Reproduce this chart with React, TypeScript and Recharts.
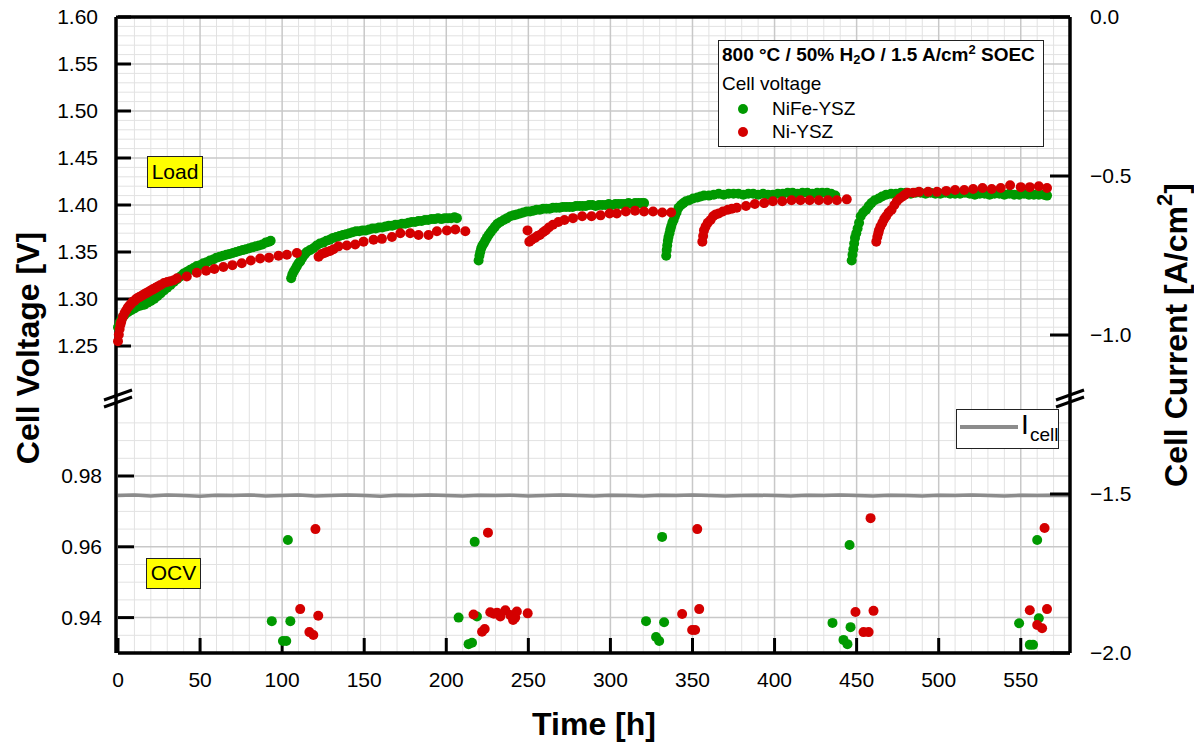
import React from 'react';
import { ComposedChart, Scatter, Line, XAxis, YAxis, CartesianGrid, ReferenceLine, Legend } from 'recharts';

const FONT = '"Liberation Sans", Arial, Helvetica, sans-serif';
const GREEN = '#009900';
const RED = '#d40000';
const GRAY = '#8c8c8c';

// ---------- data: cell voltage under load (time h, voltage V) ----------
const nifeLoad1: [number, number][] = [
  [0, 1.270], [1, 1.275], [2, 1.278], [3, 1.281], [4, 1.283], [6, 1.286], [8, 1.288], [10, 1.290], [12, 1.292], [14, 1.293],
  [16, 1.294], [18, 1.296], [20, 1.298], [22, 1.300], [24, 1.303], [26, 1.306], [28, 1.309], [30, 1.312], [32, 1.315], [34, 1.318],
  [36, 1.321], [38, 1.324], [40, 1.327], [42, 1.329], [44, 1.331], [46, 1.333], [48, 1.335], [50, 1.336], [52, 1.338], [54, 1.339],
  [56, 1.341], [58, 1.342], [60, 1.344], [62, 1.345], [64, 1.346], [66, 1.347], [68, 1.348], [70, 1.349], [72, 1.350], [74, 1.351],
  [76, 1.352], [78, 1.353], [80, 1.354], [82, 1.355], [84, 1.356], [86, 1.357], [88, 1.358], [90, 1.360], [92, 1.361], [93, 1.362],
];
const nifeLoad2: [number, number][] = [
  [105.5, 1.322], [106.2, 1.326], [107, 1.329], [108, 1.332], [109, 1.335], [110, 1.338], [111, 1.340], [112, 1.343], [113, 1.346],
  [114, 1.348], [115, 1.350], [117, 1.352], [119, 1.354], [121, 1.357], [123, 1.359], [125, 1.360], [127, 1.362], [129, 1.363],
  [131, 1.365], [133, 1.366], [135, 1.367], [137, 1.368], [139, 1.369], [141, 1.370], [143, 1.371], [145, 1.372], [147, 1.372],
  [149, 1.373], [151, 1.373], [153, 1.374], [155, 1.375], [157, 1.375], [159, 1.376], [161, 1.376], [163, 1.377], [165, 1.378],
  [167, 1.378], [169, 1.379], [171, 1.379], [173, 1.380], [175, 1.380], [177, 1.381], [179, 1.382], [181, 1.382], [183, 1.383],
  [185, 1.383], [187, 1.384], [189, 1.384], [191, 1.385], [193, 1.385], [195, 1.386], [197, 1.385], [199, 1.386], [201, 1.386],
  [203, 1.386], [205, 1.387], [206.5, 1.386],
];
const nifeLoad3: [number, number][] = [
  [219.7, 1.341], [220.2, 1.346], [220.7, 1.350], [221.3, 1.354], [222, 1.357], [222.8, 1.359], [223.7, 1.362], [224.7, 1.365],
  [225.8, 1.368], [227, 1.371], [228.3, 1.374], [229.7, 1.377], [231.2, 1.380], [232.9, 1.382], [235, 1.384], [237, 1.386],
  [239, 1.388], [241, 1.389], [243, 1.390], [245, 1.391], [247, 1.392], [249, 1.393], [251, 1.393], [253, 1.394], [255, 1.395],
  [257, 1.395], [259, 1.396], [261, 1.396], [263, 1.396], [265, 1.397], [267, 1.397], [269, 1.397], [271, 1.398], [273, 1.398],
  [275, 1.398], [277, 1.398], [279, 1.399], [281, 1.399], [283, 1.399], [285, 1.399], [287, 1.400], [289, 1.400], [291, 1.399],
  [293, 1.400], [295, 1.400], [297, 1.400], [299, 1.401], [301, 1.400], [303, 1.401], [305, 1.401], [307, 1.401], [309, 1.401],
  [311, 1.402], [313, 1.401], [315, 1.402], [317, 1.402], [319, 1.402], [320.5, 1.402],
];
const nifeLoad4: [number, number][] = [
  [334, 1.346], [334.3, 1.352], [334.6, 1.357], [335, 1.362], [335.4, 1.366], [336, 1.370], [336.5, 1.374], [337, 1.377],
  [337.7, 1.381], [338.5, 1.384], [339.3, 1.388], [340.3, 1.392], [341.5, 1.397], [343, 1.400], [344.5, 1.402], [346, 1.404],
  [348, 1.405], [350.4, 1.407], [353, 1.408], [355, 1.409], [357, 1.410], [360, 1.410], [363, 1.411], [366, 1.412], [369, 1.411],
  [372, 1.412], [375, 1.412], [378, 1.412], [381, 1.411], [384, 1.412], [387, 1.412], [390, 1.411], [393, 1.412], [396, 1.411],
  [399, 1.411], [402, 1.412], [405, 1.412], [408, 1.413], [411, 1.413], [414, 1.412], [417, 1.413], [420, 1.413], [423, 1.412],
  [426, 1.413], [429, 1.413], [432, 1.413], [434.5, 1.412], [437, 1.410],
];
const nifeLoad5: [number, number][] = [
  [447, 1.341], [447.5, 1.347], [448, 1.353], [448.5, 1.359], [449, 1.365], [449.8, 1.370], [450.6, 1.375], [451.5, 1.381],
  [452.5, 1.388], [454, 1.392], [455.8, 1.395], [457.4, 1.399], [459, 1.402], [461, 1.405], [463.4, 1.407], [465.5, 1.409],
  [468, 1.411], [471, 1.412], [474, 1.412], [477, 1.413], [480, 1.413], [483, 1.412], [486, 1.413], [489, 1.413], [492, 1.412],
  [495, 1.413], [498, 1.412], [501, 1.412], [504, 1.413], [507, 1.412], [510, 1.412], [513, 1.412], [516, 1.413], [519, 1.412],
  [522, 1.411], [525, 1.412], [528, 1.412], [531, 1.411], [534, 1.412], [537, 1.412], [540, 1.411], [543, 1.412], [546, 1.411],
  [549, 1.411], [552, 1.412], [555, 1.411], [558, 1.411], [561, 1.411], [564, 1.411], [566, 1.410],
];

const niLoad1: [number, number][] = [
  [0, 1.255], [0.5, 1.262], [1, 1.268], [1.5, 1.273], [2, 1.276], [3, 1.281], [4, 1.285], [5, 1.288], [6, 1.291], [7, 1.293],
  [8, 1.295], [9, 1.297], [10, 1.298], [11, 1.300], [12, 1.301], [13, 1.302], [14, 1.303], [15, 1.304], [16, 1.305], [17, 1.306],
  [18, 1.307], [19, 1.308], [20, 1.309], [21, 1.310], [22, 1.311], [23, 1.312], [24, 1.313], [26, 1.315], [28, 1.317], [30, 1.318],
  [32, 1.319], [34, 1.320], [36, 1.322], [41.9, 1.324], [48, 1.328], [53.7, 1.330], [58.7, 1.332], [64.2, 1.334], [69.7, 1.336],
  [75.4, 1.338], [80.9, 1.341], [86.6, 1.343], [92, 1.344], [97.8, 1.346], [102.9, 1.347], [109, 1.349],
];
const niLoad2: [number, number][] = [
  [122.2, 1.345], [124.2, 1.348], [125.8, 1.349], [127.2, 1.350], [129.2, 1.351], [131.3, 1.353], [134.3, 1.356], [139.4, 1.357],
  [144.5, 1.358], [149.6, 1.361], [155.7, 1.363], [160.8, 1.364], [166.9, 1.366], [172, 1.370], [178, 1.370], [183.1, 1.368],
  [189.2, 1.368], [194.3, 1.372], [200.4, 1.373], [205.5, 1.374], [211.6, 1.372],
];
const niLoad3: [number, number][] = [
  [249.5, 1.373], [250.6, 1.361], [252, 1.363], [254, 1.365], [255.5, 1.367], [257, 1.368], [259, 1.371], [260.6, 1.373],
  [262.5, 1.376], [265, 1.379], [268.3, 1.382], [272, 1.384], [277.2, 1.386], [282.8, 1.388], [288.5, 1.388], [294, 1.389],
  [299.5, 1.391], [303.9, 1.391], [309.4, 1.393], [315, 1.394], [320.5, 1.393], [326, 1.393], [331.6, 1.392], [337, 1.392],
];
const niLoad4: [number, number][] = [
  [356, 1.361], [356.5, 1.367], [357, 1.373], [358, 1.377], [359.3, 1.381], [361, 1.384], [362.6, 1.388], [364.2, 1.390],
  [366, 1.391], [368.5, 1.393], [371.5, 1.395], [374, 1.396], [377, 1.397], [382.6, 1.399], [388, 1.401], [393.7, 1.402],
  [399, 1.404], [404.7, 1.404], [410.3, 1.405], [415.8, 1.405], [421.4, 1.405], [427, 1.405], [432.5, 1.405], [438, 1.405],
  [444, 1.406],
];
const niLoad5: [number, number][] = [
  [462, 1.361], [462.6, 1.366], [463.2, 1.370], [463.6, 1.373], [464.5, 1.377], [465.7, 1.381], [466.8, 1.385], [468, 1.388],
  [469.5, 1.392], [471.3, 1.395], [473, 1.400], [474.5, 1.404], [476.2, 1.407], [478, 1.409], [479.5, 1.411], [481, 1.413],
  [484.5, 1.413], [488, 1.414], [493.5, 1.414], [499, 1.414], [504.6, 1.415], [510, 1.416], [515.6, 1.416], [521, 1.417],
  [526.7, 1.418], [532.3, 1.417], [537.8, 1.418], [543.5, 1.421], [550, 1.419], [555.5, 1.419], [561, 1.420], [566, 1.418],
];

// ---------- data: open circuit voltage (time h, voltage V) ----------
const nifeOcv: [number, number][] = [
  [93.7, 0.939], [100.5, 0.9334], [102.5, 0.9334], [105, 0.939], [103.5, 0.9619],
  [207.5, 0.940], [213.6, 0.9325], [215.7, 0.9329], [218.7, 0.9403], [217.3, 0.9614],
  [321.7, 0.939], [327.8, 0.9345], [329.7, 0.9334], [332.7, 0.9387], [331.5, 0.9628],
  [435.3, 0.9385], [442, 0.9337], [444.4, 0.9325], [446.3, 0.9373], [445.7, 0.9605],
  [549, 0.9384], [555.5, 0.9323], [557.5, 0.9323], [561, 0.9398], [560, 0.9619],
];
const niOcv: [number, number][] = [
  [111, 0.9424], [116.6, 0.9359], [119, 0.9351], [122, 0.9405], [120.3, 0.965],
  [216.6, 0.9409], [221.8, 0.936], [223.4, 0.9368], [225.4, 0.964], [226.8, 0.9415], [229, 0.9411], [230.9, 0.9414],
  [232.9, 0.9403], [236, 0.9421], [239, 0.9407], [240.7, 0.9393], [242, 0.940], [243, 0.9417], [249.6, 0.9412],
  [343.7, 0.941], [349.8, 0.9365], [351.6, 0.9365], [354.1, 0.9424], [352.9, 0.965],
  [449.3, 0.9416], [454.2, 0.9359], [457.3, 0.9359], [460.3, 0.9419], [458.5, 0.9681],
  [555.5, 0.9421], [560, 0.9379], [563, 0.937], [566, 0.9424], [564.5, 0.9653],
];

// ---------- data: cell current (time h, A/cm2) ----------
const icellData: [number, number][] = [
  [0, -1.505], [10, -1.503], [20, -1.506], [30, -1.503], [40, -1.505], [50, -1.507], [60, -1.504], [70, -1.505], [80, -1.503],
  [90, -1.506], [100, -1.505], [110, -1.503], [120, -1.506], [130, -1.505], [140, -1.503], [150, -1.505], [160, -1.507],
  [170, -1.504], [180, -1.505], [190, -1.503], [200, -1.505], [210, -1.506], [220, -1.504], [230, -1.505], [240, -1.504],
  [250, -1.506], [260, -1.505], [270, -1.503], [280, -1.505], [290, -1.506], [300, -1.504], [310, -1.505], [320, -1.506],
  [330, -1.504], [340, -1.505], [350, -1.503], [360, -1.505], [370, -1.506], [380, -1.505], [390, -1.504], [400, -1.505],
  [410, -1.506], [420, -1.504], [430, -1.505], [440, -1.503], [450, -1.505], [460, -1.506], [470, -1.504], [480, -1.505],
  [490, -1.506], [500, -1.504], [510, -1.505], [520, -1.503], [530, -1.505], [540, -1.506], [550, -1.504], [560, -1.505],
  [570, -1.504], [580, -1.505],
];

// ---------- tick labels ----------
const xMajorTicks = [0, 50, 100, 150, 200, 250, 300, 350, 400, 450, 500, 550];
const upMajorTicks = [1.25, 1.30, 1.35, 1.40, 1.45, 1.50, 1.55, 1.60];
const lowMajorTicks = [0.94, 0.96, 0.98];
const curMajorTicks = [0, -0.5, -1.0, -1.5, -2.0];

// ---------- layout ----------
const W = 1194;
const H = 745;
const PL = 118;
const PR = 1070;
const PT = 17;
const PB = 653;
const X_MAX = 580;
const UP_TOP = 1.6;
const UP_BOT = 1.2;
const UP_BOT_Y = 393;
const LOW_BOT = 0.93;
const LOW_REF = 0.98;
const LOW_REF_Y = 476;
const kUp = (UP_BOT_Y - PT) / (UP_TOP - UP_BOT);
const kLow = (PB - LOW_REF_Y) / (LOW_REF - LOW_BOT);
const kX = (PR - PL) / X_MAX;
const upDomain: [number, number] = [UP_TOP - (PB - PT) / kUp, UP_TOP];
const lowDomain: [number, number] = [LOW_BOT, LOW_BOT + (PB - PT) / kLow];
// each axis needs a 1px box to render; the axes stack by 1px per side
const N_LEFT = 4;
const N_RIGHT = 6;
const N_TOP = 2;
const N_BOTTOM = 2;

const rng = (a: number, b: number, s: number) => {
  const out: number[] = [];
  const n = Math.round((b - a) / s);
  for (let i = 0; i <= n; i++) out.push(Math.round((a + i * s) * 10000) / 10000);
  return out;
};
const notIn = (arr: number[], ex: number[]) => arr.filter((v) => !ex.some((e) => Math.abs(e - v) < 1e-6));

const xMinorTicks = notIn(rng(10, 570, 10), xMajorTicks);
const upMinorTicks = notIn(rng(1.21, 1.59, 0.01), upMajorTicks);
const lowMinorTicks = notIn(rng(0.935, 0.995, 0.005), lowMajorTicks);
const curMinorTicks = notIn(rng(-1.9, -0.1, 0.1), curMajorTicks);
const gridXMinor = xMinorTicks;
const gridXMajor = rng(50, 550, 50);
const gridUpMinor = upMinorTicks;
const gridUpMajor = rng(1.25, 1.55, 0.05);
const gridLowMinor = lowMinorTicks;
const gridLowMajor = lowMajorTicks;

const toPts = (arr: [number, number][]) => arr.map(([t, v]) => ({ t, v }));
const nifeLoad = toPts([...nifeLoad1, ...nifeLoad2, ...nifeLoad3, ...nifeLoad4, ...nifeLoad5]);
const niLoad = toPts([...niLoad1, ...niLoad2, ...niLoad3, ...niLoad4, ...niLoad5]);
const nifeOcvPts = toPts(nifeOcv);
const niOcvPts = toPts(niOcv);
const icellPts = icellData.map(([t, i]) => ({ t, i }));

// break marks (decoration) in data units
const hx = (px: number) => (px - PL) / kX;
const lv = (py: number) => LOW_BOT + (PB - py) / kLow;

const axisStroke = { stroke: '#000', strokeWidth: 3.5 };
const tickStroke = { stroke: '#000', strokeWidth: 3 };
const tickFont = { fontSize: 21, fill: '#000', fontFamily: FONT };
const titleFont = { fontSize: 32, fontWeight: 700, fill: '#000', fontFamily: FONT };

const dot = (color: string) => (p: any) => <circle cx={p.cx} cy={p.cy} r={5} fill={color} />;
const fmtCur = (v: number) => (Math.abs(v) < 1e-9 ? '0.0' : '\u2212' + Math.abs(v).toFixed(1));

const CurrentTitle = (props: any) => {
  const vb = props.viewBox || {};
  const x = (vb.x || 0) + (vb.width || 0) / 2 + 105;
  const y = (vb.y || 0) + (vb.height || 0) / 2;
  return (
    <text x={x} y={y} transform={`rotate(-90, ${x}, ${y})`} textAnchor="middle" dominantBaseline="central"
      fontSize={32} fontWeight={700} fill="#000" fontFamily={FONT}>
      Cell Current [A/cm<tspan dy={-12} fontSize={22}>2</tspan><tspan dy={12}>]</tspan>
    </text>
  );
};

const Overlay = () => (
  <div style={{ position: 'relative', width: W, height: H, fontFamily: FONT, color: '#000', pointerEvents: 'none' }}>
    <div style={{ position: 'absolute', left: 147, top: 156, width: 56, height: 32, boxSizing: 'border-box', border: '1.5px solid #222', background: '#ffff00', fontSize: 21, lineHeight: '29px', textAlign: 'center' }}>Load</div>
    <div style={{ position: 'absolute', left: 146, top: 558, width: 55, height: 31, boxSizing: 'border-box', border: '1.5px solid #222', background: '#ffff00', fontSize: 21, lineHeight: '28px', textAlign: 'center' }}>OCV</div>
    <div style={{ position: 'absolute', left: 718, top: 40, width: 326, height: 107, boxSizing: 'border-box', border: '1.5px solid #222', background: '#fff' }} />
    <div style={{ position: 'absolute', left: 722, top: 45, fontSize: 19, fontWeight: 700, lineHeight: '20px', whiteSpace: 'nowrap' }}>
      800 °C / 50% H<sub style={{ fontSize: 13, verticalAlign: -3, lineHeight: 0 }}>2</sub>O / 1.5 A/cm<sup style={{ fontSize: 13, verticalAlign: 7, lineHeight: 0 }}>2</sup> SOEC
    </div>
    <div style={{ position: 'absolute', left: 722, top: 74, fontSize: 19, lineHeight: '20px', whiteSpace: 'nowrap' }}>Cell voltage</div>
    <div style={{ position: 'absolute', left: 738, top: 104, width: 10, height: 10, borderRadius: 5, background: GREEN }} />
    <div style={{ position: 'absolute', left: 772, top: 99, fontSize: 19, lineHeight: '20px', whiteSpace: 'nowrap' }}>NiFe-YSZ</div>
    <div style={{ position: 'absolute', left: 738, top: 127, width: 10, height: 10, borderRadius: 5, background: RED }} />
    <div style={{ position: 'absolute', left: 772, top: 122, fontSize: 19, lineHeight: '20px', whiteSpace: 'nowrap' }}>Ni-YSZ</div>
    <div style={{ position: 'absolute', left: 956, top: 409, width: 103, height: 40, boxSizing: 'border-box', border: '1.5px solid #222', background: '#fff' }} />
    <div style={{ position: 'absolute', left: 960, top: 425, width: 58, height: 4, background: GRAY }} />
    <div style={{ position: 'absolute', left: 1021, top: 411, fontSize: 28, lineHeight: '28px' }}>I</div>
    <div style={{ position: 'absolute', left: 1030, top: 425, fontSize: 19, lineHeight: '20px' }}>cell</div>
  </div>
);

export default function App() {
  return (
    <div style={{ position: 'absolute', left: 0, top: 0, width: W, height: H, background: '#fff' }}>
      <ComposedChart width={W} height={H}
        margin={{ top: PT - N_TOP, left: PL - N_LEFT, right: W - PR - N_RIGHT, bottom: H - PB - N_BOTTOM }}>
        {/* grid */}
        <CartesianGrid xAxisId="x" yAxisId="up" horizontal={false} vertical verticalValues={gridXMinor} stroke="#e2e2e2" strokeWidth={1} fill="none" />
        <CartesianGrid xAxisId="x" yAxisId="up" horizontal vertical={false} horizontalValues={gridUpMinor} stroke="#e2e2e2" strokeWidth={1} fill="none" />
        <CartesianGrid xAxisId="x" yAxisId="low" horizontal vertical={false} horizontalValues={gridLowMinor} stroke="#e2e2e2" strokeWidth={1} fill="none" />
        <CartesianGrid xAxisId="x" yAxisId="up" horizontal={false} vertical verticalValues={gridXMajor} stroke="#c8c8c8" strokeWidth={1.5} fill="none" />
        <CartesianGrid xAxisId="x" yAxisId="up" horizontal vertical={false} horizontalValues={gridUpMajor} stroke="#c8c8c8" strokeWidth={1.5} fill="none" />
        <CartesianGrid xAxisId="x" yAxisId="low" horizontal vertical={false} horizontalValues={gridLowMajor} stroke="#c8c8c8" strokeWidth={1.5} fill="none" />

        {/* x axes (bottom, then top) */}
        <XAxis xAxisId="x" type="number" dataKey="t" domain={[0, X_MAX]} ticks={xMajorTicks} interval={0} orientation="bottom" height={1}
          tickSize={-15} tickMargin={34} axisLine={axisStroke} tickLine={tickStroke} tick={tickFont}
          label={{ value: 'Time [h]', position: 'bottom', offset: 58, ...titleFont }} />
        <XAxis xAxisId="xminor" type="number" domain={[0, X_MAX]} allowDataOverflow ticks={xMinorTicks} interval={0} orientation="bottom" height={1}
          tickSize={-9} tick={false} axisLine={false} tickLine={tickStroke} />
        <XAxis xAxisId="xtop" type="number" domain={[0, X_MAX]} allowDataOverflow ticks={xMajorTicks} interval={0} orientation="top" height={1}
          tickSize={-15} tick={false} axisLine={axisStroke} tickLine={tickStroke} />
        <XAxis xAxisId="xtopminor" type="number" domain={[0, X_MAX]} allowDataOverflow ticks={xMinorTicks} interval={0} orientation="top" height={1}
          tickSize={-9} tick={false} axisLine={false} tickLine={tickStroke} />

        {/* left voltage axes */}
        <YAxis yAxisId="up" type="number" dataKey="v" domain={upDomain} ticks={upMajorTicks} interval={0} width={1}
          tickSize={-15} tickMargin={33} axisLine={axisStroke} tickLine={tickStroke} tick={tickFont}
          tickFormatter={(v: number) => v.toFixed(2)}
          label={{ value: 'Cell Voltage [V]', angle: -90, position: 'center', dx: -88, dy: 13, ...titleFont }} />
        <YAxis yAxisId="low" type="number" dataKey="v" domain={lowDomain} ticks={lowMajorTicks} interval={0} width={1}
          tickSize={-16} tickMargin={32} axisLine={false} tickLine={tickStroke} tick={tickFont}
          tickFormatter={(v: number) => v.toFixed(2)} />
        <YAxis yAxisId="upminor" type="number" domain={upDomain} allowDataOverflow ticks={upMinorTicks} interval={0} width={1}
          tickSize={-9} tick={false} axisLine={false} tickLine={tickStroke} />
        <YAxis yAxisId="lowminor" type="number" domain={lowDomain} allowDataOverflow ticks={lowMinorTicks} interval={0} width={1}
          tickSize={-10} tick={false} axisLine={false} tickLine={tickStroke} />

        {/* right side: current axis + mirrored voltage ticks */}
        <YAxis yAxisId="cur" orientation="right" type="number" dataKey="i" domain={[-2, 0]} ticks={curMajorTicks} interval={0} width={1}
          tickSize={-20} tickMargin={40} axisLine={axisStroke} tickLine={tickStroke} tick={tickFont} tickFormatter={fmtCur}
          label={CurrentTitle} />
        <YAxis yAxisId="curminor" orientation="right" type="number" domain={[-2, 0]} allowDataOverflow ticks={curMinorTicks} interval={0} width={1}
          tickSize={-11} tick={false} axisLine={false} tickLine={tickStroke} />
        <YAxis yAxisId="upR" orientation="right" type="number" domain={upDomain} allowDataOverflow ticks={upMajorTicks} interval={0} width={1}
          tickSize={-17} tick={false} axisLine={false} tickLine={tickStroke} />
        <YAxis yAxisId="upRminor" orientation="right" type="number" domain={upDomain} allowDataOverflow ticks={upMinorTicks} interval={0} width={1}
          tickSize={-10} tick={false} axisLine={false} tickLine={tickStroke} />
        <YAxis yAxisId="lowR" orientation="right" type="number" domain={lowDomain} allowDataOverflow ticks={lowMajorTicks} interval={0} width={1}
          tickSize={-19} tick={false} axisLine={false} tickLine={tickStroke} />
        <YAxis yAxisId="lowRminor" orientation="right" type="number" domain={lowDomain} allowDataOverflow ticks={lowMinorTicks} interval={0} width={1}
          tickSize={-12} tick={false} axisLine={false} tickLine={tickStroke} />

        {/* series */}
        <Line xAxisId="x" yAxisId="cur" data={icellPts} dataKey="i" type="linear" stroke={GRAY} strokeWidth={3.5} dot={false} activeDot={false} isAnimationActive={false} />
        <Scatter xAxisId="x" yAxisId="up" data={nifeLoad} name="NiFe-YSZ" shape={dot(GREEN)} isAnimationActive={false} />
        <Scatter xAxisId="x" yAxisId="low" data={nifeOcvPts} name="NiFe-YSZ OCV" shape={dot(GREEN)} isAnimationActive={false} />
        <Scatter xAxisId="x" yAxisId="up" data={niLoad} name="Ni-YSZ" shape={dot(RED)} isAnimationActive={false} />
        <Scatter xAxisId="x" yAxisId="low" data={niOcvPts} name="Ni-YSZ OCV" shape={dot(RED)} isAnimationActive={false} />

        {/* axis break marks */}
        <ReferenceLine xAxisId="x" yAxisId="low" ifOverflow="visible" stroke="#000" strokeWidth={3}
          segment={[{ x: hx(104), y: lv(407) }, { x: hx(132), y: lv(397) }]} />
        <ReferenceLine xAxisId="x" yAxisId="low" ifOverflow="visible" stroke="#000" strokeWidth={3}
          segment={[{ x: hx(104), y: lv(400) }, { x: hx(132), y: lv(390) }]} />
        <ReferenceLine xAxisId="x" yAxisId="low" ifOverflow="visible" stroke="#000" strokeWidth={3}
          segment={[{ x: hx(1056), y: lv(407) }, { x: hx(1084), y: lv(397) }]} />
        <ReferenceLine xAxisId="x" yAxisId="low" ifOverflow="visible" stroke="#000" strokeWidth={3}
          segment={[{ x: hx(1056), y: lv(400) }, { x: hx(1084), y: lv(390) }]} />

        <Legend layout="vertical" align="center" verticalAlign="middle" content={() => <Overlay />}
          wrapperStyle={{ left: 0, top: 0, width: W, height: H, margin: 0, padding: 0, pointerEvents: 'none' }} />
      </ComposedChart>
    </div>
  );
}
